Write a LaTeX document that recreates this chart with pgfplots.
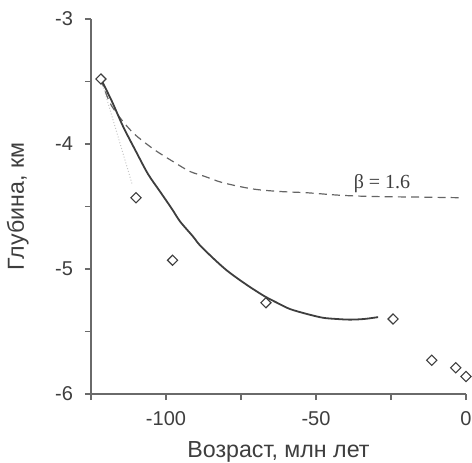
\documentclass[border=0pt]{standalone}
\usepackage{fontspec}
\setmainfont{Liberation Sans}
\newfontfamily\serifb{Liberation Serif}
\usepackage{pgfplots}
\pgfplotsset{compat=1.18}

\definecolor{ink}{HTML}{3E3E3E}
\definecolor{axisgray}{HTML}{6A6A6A}

\begin{document}
\begin{tikzpicture}
\begin{axis}[
    scale only axis,
    width=187.5pt,
    height=187.5pt,
    xmin=-125, xmax=0,
    ymin=-6, ymax=-3,
    axis lines*=left,
    axis line style={axisgray, line width=0.6pt},
    xtick={-100,-50,0},
    minor xtick={-125,-75,-25},
    ytick={-6,-5,-4,-3},
    minor ytick={-5.5,-4.5,-3.5},
    tick align=outside,
    major tick length=3pt,
    minor tick length=3pt,
    tick style={axisgray, line width=0.6pt},
    /pgf/number format/assume math mode=true,
    ticklabel style={font=\fontsize{10}{12}\selectfont, text=ink},
    xticklabel style={anchor=base, yshift=-12.5pt},
    yticklabel style={anchor=east, xshift=-2.5pt},
    xlabel={Возраст, млн лет},
    ylabel={Глубина, км},
    label style={font=\fontsize{11.6}{13}\selectfont, text=ink},
    xlabel style={at={(axis description cs:0.5,0)}, anchor=base, yshift=-31.5pt},
    ylabel style={at={([xshift=-33.5pt]axis description cs:0,0.5)}, anchor=base},
    clip=false,
]
% dotted line from first to second sample
\addplot[gray!45, densely dotted, line width=0.5pt] coordinates {
(-121.7,-3.48) (-111.3,-4.32)
};
% beta = 1.6 model
\addplot[ink!80, dash pattern=on 4pt off 2.6pt, line width=0.6pt, smooth] coordinates {
(-121.7,-3.48)
(-118.7,-3.67)
(-115,-3.80)
(-111,-3.91)
(-107,-3.99)
(-103,-4.06)
(-97,-4.15)
(-92,-4.22)
(-87,-4.26)
(-81,-4.31)
(-71,-4.36)
(-62,-4.38)
(-53,-4.39)
(-42,-4.41)
(-31,-4.42)
(-15,-4.425)
(-1.5,-4.43)
};
% fitted curve
\addplot[ink, line width=0.9pt, smooth] coordinates {
(-121.7,-3.48)
(-118,-3.66)
(-114.3,-3.86)
(-110,-4.06)
(-106,-4.24)
(-102,-4.38)
(-98,-4.52)
(-95.3,-4.62)
(-91,-4.74)
(-88.7,-4.81)
(-84,-4.92)
(-79.8,-5.01)
(-75.3,-5.09)
(-71,-5.16)
(-67,-5.22)
(-63,-5.27)
(-58.7,-5.32)
(-53,-5.36)
(-47.7,-5.39)
(-43,-5.40)
(-38.7,-5.405)
(-34,-5.40)
(-29.3,-5.385)
};
% samples
\addplot[only marks, mark=square*, mark size=1.8pt, mark options={rotate=45, draw=ink, line width=0.55pt, fill=white}] coordinates {
(-121.7,-3.48)
(-110,-4.43)
(-97.8,-4.93)
(-66.7,-5.27)
(-24.3,-5.40)
(-11.4,-5.73)
(-3.4,-5.79)
(0,-5.86)
};
\node[anchor=base, text=ink, font=\serifb\fontsize{10}{12}\selectfont] at (axis cs:-28,-4.352) {β = 1.6};
\coordinate (sw) at (rel axis cs:0,0);
\coordinate (ne) at (rel axis cs:1,1);
\end{axis}
\pgfresetboundingbox
\path[use as bounding box] ([shift={(-45.5pt,-34pt)}]sw) rectangle ([shift={(3pt,9.5pt)}]ne);
\end{tikzpicture}
\end{document}
